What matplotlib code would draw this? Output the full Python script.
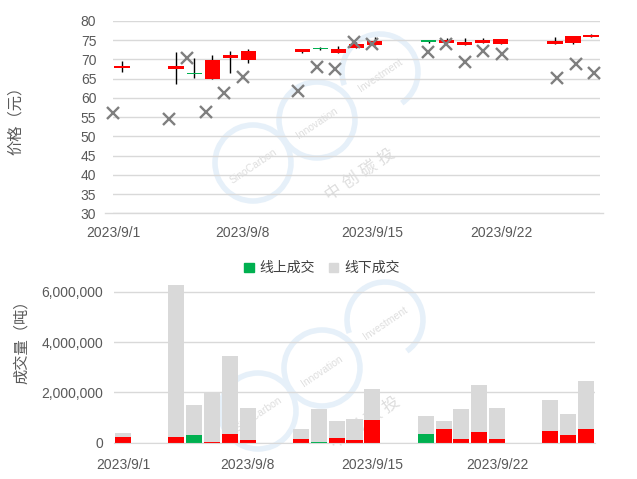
import matplotlib
matplotlib.use("Agg")
import matplotlib.pyplot as plt
from matplotlib.patches import Rectangle, Arc
import numpy as np

plt.rcParams['font.family'] = ['Liberation Sans', 'Noto Sans CJK SC', 'DejaVu Sans']

# ---------------- data ----------------
days = [1, 4, 5, 6, 7, 8, 11, 12, 13, 14, 15, 18, 19, 20, 21, 22, 25, 26, 27]
open_ = [67.9, 67.6, 66.5, 64.9, 70.5, 69.9, 71.9, 73.1, 71.8, 73.1, 73.8, 74.9, 74.4, 73.8, 74.3, 74.1, 74.1, 74.4, 75.8]
close = [68.3, 68.3, 66.1, 69.9, 71.2, 72.2, 72.6, 72.6, 72.7, 74.0, 74.9, 74.5, 75.1, 74.6, 75.1, 75.3, 74.8, 76.1, 76.2]
high = [69.6, 72.0, 70.3, 71.2, 72.2, 72.7, 72.7, 73.2, 73.5, 74.5, 75.8, 74.9, 75.6, 75.7, 75.5, 75.3, 75.9, 76.1, 76.5]
low = [66.8, 63.6, 65.3, 64.9, 66.6, 69.2, 71.6, 72.5, 71.8, 73.0, 73.8, 74.4, 74.4, 73.8, 74.2, 74.1, 74.1, 74.1, 75.8]
offline_price = [56.0, 54.5, 70.3, 56.4, 61.2, 65.4, 61.8, 68.1, 67.6, 74.6, 73.9, 72.0, 73.9, 69.4, 72.2, 71.3, 65.1, 68.7, 66.6]
total_volume = [398e3, 6270e3, 1500e3, 2000e3, 3450e3, 1380e3, 545e3, 1340e3, 863e3, 942e3, 2140e3,
                1060e3, 863e3, 1340e3, 2290e3, 1380e3, 1700e3, 1140e3, 2450e3]
online_volume = [239e3, 239e3, 306e3, 30e3, 358e3, 119e3, 159e3, 10e3, 199e3, 107e3, 902e3,
                 346e3, 557e3, 147e3, 425e3, 147e3, 465e3, 318e3, 545e3]
tick_days = [1, 8, 15, 22]
tick_labels = ['2023/9/1', '2023/9/8', '2023/9/15', '2023/9/22']
price_ticks = list(range(30, 81, 5))
vol_ticks = [0, 2000000, 4000000, 6000000]
legend_labels = ['线上成交', '线下成交']
wm_words = ['SinoCarbon', 'Innovation', 'Investment']
wm_cn = '中 创 碳 投'

RED = '#ff0000'
GREEN = '#00b050'
GREY_BAR = '#d9d9d9'
TXT = '#595959'
GRID = '#d9d9d9'

offline_volume = [t - o for t, o in zip(total_volume, online_volume)]
up = [c >= o for o, c in zip(open_, close)]
online_colors = [RED if u else GREEN for u in up]

W, H = 637, 479
fig = plt.figure(figsize=(W / 100, H / 100), dpi=100)

def fr(x0, y0, x1, y1):
    return [x0 / W, 1 - y1 / H, (x1 - x0) / W, (y1 - y0) / H]

# ---------------- watermark (two copies of the logo) ----------------
wm = '#e6f0f9'
wmt = '#dedede'
for dx, dy in [(0, 0), (5, 248)]:
    centers = [(253 + dx, 163 + dy), (317 + dx, 120 + dy), (380 + dx, 72 + dy)]
    arcs = [(0, 360), (0, 360), (-55, 200)]
    for (cx, cy), (t1, t2) in zip(centers, arcs):
        a = Arc((cx / 100, (H - cy) / 100), 0.76, 0.76, theta1=t1, theta2=t2,
                transform=fig.dpi_scale_trans, color=wm, lw=4, zorder=-1)
        fig.add_artist(a)
    for (cx, cy), wtxt in zip(centers, wm_words):
        fig.text(cx / W, 1 - (cy + 3) / H, wtxt, rotation=34, ha='center', va='center',
                 rotation_mode='anchor', fontsize=7.5, color=wmt, zorder=-1)
    fig.text((360 + dx) / W, 1 - (174 + dy) / H, wm_cn, rotation=34, ha='center', va='center',
             rotation_mode='anchor', fontsize=12, color=wmt, zorder=-1)

# ---------------- top panel ----------------
ax = fig.add_axes(fr(113, 21, 600, 213.3))
ax.set_xlim(0.5, 27.5)
ax.set_ylim(30, 80)
ax.set_yticks(price_ticks)
ax.grid(axis='y', color=GRID, lw=1)
ax.set_axisbelow(True)
for s in ax.spines.values():
    s.set_visible(False)
ax.tick_params(axis='y', length=0, labelsize=10, labelcolor=TXT, pad=12)
ax.set_xticks([])
ax.patch.set_alpha(0)

bw = 0.85
for d, o, c, h, l, col in zip(days, open_, close, high, low, online_colors):
    ax.vlines(d, l, h, color='black', lw=1, zorder=2)
    lo, hi = min(o, c), max(o, c)
    hgt = max(hi - lo, 0.45)
    ax.add_patch(Rectangle((d - bw / 2, lo), bw, hgt, color=col, zorder=3, lw=0))

ax2 = ax.twiny()
ax2.set_xlim(1.0, 27.3)
ax2.xaxis.set_ticks_position('bottom')
ax2.set_xticks(tick_days)
ax2.set_xticklabels(tick_labels)
ax2.tick_params(axis='x', length=0, labelsize=10, labelcolor=TXT, pad=9)
for s in ax2.spines.values():
    s.set_visible(False)
ax2.plot(days, offline_price, 'x', color='#7f7f7f', ms=8, mew=1.7, zorder=4, clip_on=False)
ax.plot([-0.017, 1.006], [0, 0], transform=ax.transAxes, color=GRID, lw=1, clip_on=False)

ax.set_ylabel('价格（元）', fontsize=11, color=TXT)
ax.yaxis.set_label_coords(-0.185, 0.5)

# ---------------- bottom panel ----------------
bx = fig.add_axes(fr(114, 279.3, 595, 442.7))
bx.set_xlim(0.5, 27.5)
bx.set_ylim(0, 6500000)
bx.set_yticks(vol_ticks)
bx.yaxis.set_major_formatter(matplotlib.ticker.FuncFormatter(lambda v, p: f'{int(v):,}'))
bx.grid(axis='y', color=GRID, lw=1)
bx.set_axisbelow(True)
for s in bx.spines.values():
    s.set_visible(False)
bx.spines['bottom'].set_visible(True)
bx.spines['bottom'].set_color(GRID)
bx.tick_params(axis='y', length=0, labelsize=10, labelcolor=TXT, pad=8)
bx.set_xticks(tick_days)
bx.set_xticklabels(tick_labels)
bx.tick_params(axis='x', length=0, labelsize=10, labelcolor=TXT, pad=11)
bx.patch.set_alpha(0)

bx.bar(days, online_volume, width=0.9, color=online_colors, zorder=2)
bx.bar(days, offline_volume, width=0.9, bottom=online_volume, color=GREY_BAR, zorder=2)
h1 = Rectangle((0, 0), 1, 1, color=GREEN)
h2 = Rectangle((0, 0), 1, 1, color=GREY_BAR)
bx.legend([h1, h2], legend_labels, loc='center', bbox_to_anchor=(0.432, 1 + 11 / 163.4), ncol=2,
          frameon=False, fontsize=10, handlelength=0.7, handleheight=0.7, handletextpad=0.4,
          columnspacing=1.0, labelcolor='#404040', borderaxespad=0.0, borderpad=0.0)

fig.text(22 / W, 1 - 338 / H, '成交量（吨）', rotation=90, ha='center', va='center', fontsize=11, color=TXT)

fig.savefig('out.png', dpi=100)
